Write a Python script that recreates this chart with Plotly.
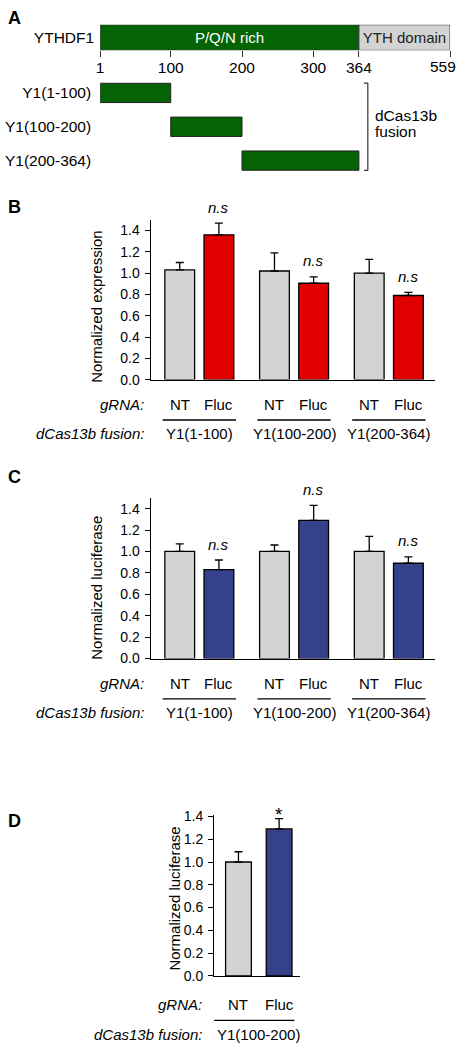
import plotly.graph_objects as go

W, H = 461, 1050
FONT = "Liberation Sans, Arial, Helvetica, sans-serif"

# ---------------- Panel A data ----------------
protein_name = "YTHDF1"
domain_names = ["P/Q/N rich", "YTH domain"]
domain_start = [1, 364]
domain_end = [364, 559]
domain_colors = ["#046404", "#d3d3d3"]
domain_text_colors = ["white", "#222222"]
aa_ticks = [1, 100, 200, 300, 364, 559]
fragments = ["Y1(1-100)", "Y1(100-200)", "Y1(200-364)"]
frag_start = [1, 100, 200]
frag_end = [100, 200, 364]
fusion_label = ["dCas13b", "fusion"]

# ---------------- Panel B data ----------------
groups = ["Y1(1-100)", "Y1(100-200)", "Y1(200-364)"]
guides = ["NT", "Fluc"]
b_nt = [1.03, 1.02, 1.00]
b_nt_err = [0.07, 0.17, 0.13]
b_fluc = [1.36, 0.905, 0.79]
b_fluc_err = [0.11, 0.06, 0.03]
b_sig = ["n.s", "n.s", "n.s"]

# ---------------- Panel C data ----------------
c_nt = [1.00, 1.00, 1.00]
c_nt_err = [0.07, 0.06, 0.14]
c_fluc = [0.83, 1.29, 0.89]
c_fluc_err = [0.09, 0.14, 0.06]
c_sig = ["n.s", "n.s", "n.s"]

# ---------------- Panel D data ----------------
d_group = "Y1(100-200)"
d_vals = [1.00, 1.29]
d_err = [0.09, 0.09]
d_sig = ["", "*"]

GREY = "#d3d3d3"
RED = "#e00000"
BLUE = "#36418c"


def px(x):
    return x / W


def py(y):
    return 1 - y / H


# schematic (non-proportional) display scale for the protein map
K_YTH = 0.656


def disp(aa):
    return aa if aa <= 364 else 364 + (aa - 364) * K_YTH


fig = go.Figure()

# ---- Panel A traces ----
fig.add_trace(go.Bar(
    y=[protein_name] * len(domain_names),
    base=[disp(s) for s in domain_start],
    x=[disp(e) - disp(s) for s, e in zip(domain_start, domain_end)],
    orientation="h", width=1,
    marker=dict(color=domain_colors, line=dict(color="#333333", width=1)),
    text=domain_names, textposition="inside", insidetextanchor="middle",
    textangle=0,
    textfont=dict(family=FONT, size=15, color=domain_text_colors),
    xaxis="x", yaxis="y", hoverinfo="skip",
))
fig.add_trace(go.Bar(
    y=fragments,
    base=[disp(s) for s in frag_start],
    x=[disp(e) - disp(s) for s, e in zip(frag_start, frag_end)],
    orientation="h", width=0.57,
    marker=dict(color=domain_colors[0], line=dict(color="#222222", width=1)),
    xaxis="x2", yaxis="y2", hoverinfo="skip",
))

# ---- Panel B / C traces ----
err_style = dict(type="data", symmetric=False, color="black", thickness=1.3, width=4)
for nt, nte, fl, fle, fc, xa, ya in [
    (b_nt, b_nt_err, b_fluc, b_fluc_err, RED, "x3", "y3"),
    (c_nt, c_nt_err, c_fluc, c_fluc_err, BLUE, "x4", "y4"),
]:
    fig.add_trace(go.Bar(
        x=groups, y=nt, name=guides[0],
        marker=dict(color=GREY, line=dict(color="black", width=1.3)),
        error_y=dict(array=nte, arrayminus=[0] * len(nte), **err_style),
        xaxis=xa, yaxis=ya,
    ))
    fig.add_trace(go.Bar(
        x=groups, y=fl, name=guides[1],
        marker=dict(color=fc, line=dict(color="black", width=1.3)),
        error_y=dict(array=fle, arrayminus=[0] * len(fle), **err_style),
        xaxis=xa, yaxis=ya,
    ))

# ---- Panel D trace ----
fig.add_trace(go.Bar(
    x=guides, y=d_vals, width=0.634,
    marker=dict(color=[GREY, BLUE], line=dict(color="black", width=1.3)),
    error_y=dict(array=d_err, arrayminus=[0] * len(d_err), **err_style),
    xaxis="x5", yaxis="y5",
))

tickfont = dict(family=FONT, size=14, color="black")
fontA = dict(family=FONT, size=15.5, color="black")
ann = []
shapes = []


def A(**kw):
    d = dict(showarrow=False, font=dict(family=FONT, size=15, color="black"))
    d.update(kw)
    ann.append(d)


# panel letters
for letter, yy in [("A", 11), ("B", 203), ("C", 477), ("D", 826)]:
    A(text=f"<b>{letter}</b>", x=px(2), y=py(yy), xref="paper", yref="paper",
      xanchor="left", yanchor="middle", font=dict(family=FONT, size=18, color="black"))

# last protein-map tick label kept inside the figure (right-aligned like the reference)
A(text=str(aa_ticks[-1]), x=px(458), y=py(60), xref="paper", yref="paper",
  xanchor="right", yanchor="middle", font=fontA)

# Panel A bracket & fusion label
bx = disp(364) + 12.5
bs = 5.5
for (x0, y0, x1, y1) in [(bx, -0.29, bx, 2.29), (bx - bs, -0.29, bx, -0.29), (bx - bs, 2.29, bx, 2.29)]:
    shapes.append(dict(type="line", xref="x2", yref="y2", x0=x0, y0=y0, x1=x1, y1=y1,
                       line=dict(color="#333333", width=1.2)))
for k, line_txt in enumerate(fusion_label):
    A(text=line_txt, x=px(372), y=py(110 + 16 * k), xref="paper", yref="paper",
      xanchor="left", yanchor="middle", font=fontA)

# Panel B/C category labels, underlines, significance
SLOT = 0.207
for xa, ya, base_y, nt, nte, fl, fle, sig, title, tcy in [
    ("x3", "y3", 378, b_nt, b_nt_err, b_fluc, b_fluc_err, b_sig, "Normalized expression", 304),
    ("x4", "y4", 661, c_nt, c_nt_err, c_fluc, c_fluc_err, c_sig, "Normalized luciferase", 589),
]:
    for i, g in enumerate(groups):
        for j, gd in enumerate(guides):
            A(text=gd, x=i + (j - 0.5) * 2 * SLOT, y=py(base_y + 25), xref=xa, yref="paper",
              xanchor="center", yanchor="middle")
        A(text=g, x=i, y=py(base_y + 55), xref=xa, yref="paper", xanchor="center", yanchor="middle")
        shapes.append(dict(type="line", xref=xa, yref="paper", x0=i - 0.387, x1=i + 0.387,
                           y0=py(base_y + 41), y1=py(base_y + 41), line=dict(color="black", width=1.3)))
        if sig[i]:
            A(text=f"<i>{sig[i]}</i>", x=i + SLOT, y=fl[i] + fle[i], xref=xa, yref=ya,
              xanchor="center", yanchor="middle", yshift=16)
    A(text="<i>gRNA:</i>", x=px(143), y=py(base_y + 25), xref="paper", yref="paper",
      xanchor="right", yanchor="middle")
    A(text="<i>dCas13b fusion:</i>", x=px(143), y=py(base_y + 55), xref="paper", yref="paper",
      xanchor="right", yanchor="middle")
    A(text=title, x=px(93), y=py(tcy), xref="paper", yref="paper", textangle=-90,
      xanchor="center", yanchor="middle")

# Panel D labels
for j, gd in enumerate(guides):
    A(text=gd, x=j, y=py(1012), xref="x5", yref="paper", xanchor="center", yanchor="middle")
    if d_sig[j]:
        A(text=d_sig[j], x=j, y=d_vals[j] + d_err[j], xref="x5", yref="y5",
          xanchor="center", yanchor="middle", yshift=4, font=dict(family=FONT, size=19, color="black"))
shapes.append(dict(type="line", xref="x5", yref="paper", x0=-0.646, x1=1.378,
                   y0=py(1028), y1=py(1028), line=dict(color="black", width=1.3)))
A(text=d_group, x=0.5, y=py(1042), xref="x5", yref="paper", xanchor="center", yanchor="middle")
A(text="<i>gRNA:</i>", x=px(202), y=py(1012), xref="paper", yref="paper", xanchor="right", yanchor="middle")
A(text="<i>dCas13b fusion:</i>", x=px(202), y=py(1042), xref="paper", yref="paper",
  xanchor="right", yanchor="middle")
A(text="Normalized luciferase", x=px(172), y=py(905), xref="paper", yref="paper", textangle=-90,
  xanchor="center", yanchor="middle")

noaxis = dict(showgrid=False, zeroline=False)
val_axis = dict(showgrid=False, zeroline=False, showline=True, linecolor="black", linewidth=1.3,
                ticks="outside", ticklen=5, tickwidth=1.3, tickcolor="black", dtick=0.2,
                tickformat=".1f", tickfont=tickfont, ticklabelstandoff=2)
cat_axis = dict(showgrid=False, zeroline=False, showline=True, linecolor="black", linewidth=1.3,
                ticks="", showticklabels=False, type="category")

fig.update_layout(
    width=W, height=H, margin=dict(l=0, r=0, t=0, b=0),
    paper_bgcolor="white", plot_bgcolor="rgba(0,0,0,0)",
    showlegend=False, barmode="group", bargap=0.173, bargroupgap=0.24,
    font=dict(family=FONT, size=14, color="black"),
    # Panel A
    xaxis=dict(domain=[px(97), px(450)], range=[disp(1), disp(559)], anchor="y",
               tickvals=[disp(t) for t in aa_ticks],
               ticktext=[str(t) for t in aa_ticks[:-1]] + [""],
               ticks="outside", ticklen=6, tickwidth=1.2, tickcolor="#333333",
               showline=False, tickfont=fontA, ticklabelstandoff=-3, **noaxis),
    yaxis=dict(domain=[py(44), py(18)], range=[-0.5, 0.5], anchor="x", ticks="",
               showline=False, tickfont=fontA, ticklabelstandoff=5, **noaxis),
    xaxis2=dict(domain=[px(97), px(450)], matches="x", anchor="y2", visible=False, **noaxis),
    yaxis2=dict(domain=[py(173), py(70)], anchor="x2", autorange="reversed", ticks="",
                showline=False, tickfont=fontA, ticklabelstandoff=8, **noaxis),
    # Panel B
    xaxis3=dict(domain=[px(148), px(435)], range=[-0.513, 2.49], anchor="y3", **cat_axis),
    yaxis3=dict(domain=[py(378), py(216)], range=[0, 1.5], anchor="x3", **val_axis),
    # Panel C
    xaxis4=dict(domain=[px(148), px(435)], range=[-0.513, 2.49], anchor="y4", **cat_axis),
    yaxis4=dict(domain=[py(661), py(498)], range=[0, 1.5], anchor="x4", **val_axis),
    # Panel D
    xaxis5=dict(domain=[px(212), px(299)], range=[-0.598, 1.524], anchor="y5", **cat_axis),
    yaxis5=dict(domain=[py(983), py(820)], range=[0, 1.41], anchor="x5", **val_axis),
    annotations=ann, shapes=shapes,
)

fig.write_html("out.html", config={"displayModeBar": False},
               post_script="document.body.style.margin='0';"
                           "document.body.style.overflow='hidden';"
                           "document.documentElement.style.overflow='hidden';")
